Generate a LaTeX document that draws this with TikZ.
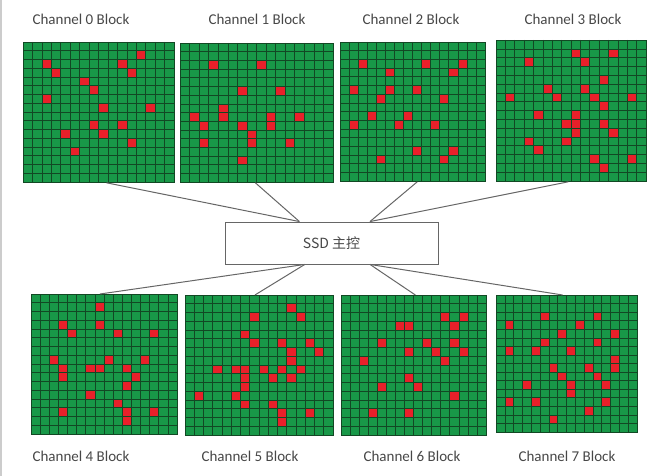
\documentclass[tikz,border=0pt]{standalone}
\usepackage{fontspec}
\setmainfont{Carlito}
\newfontfamily\cjk{Noto Sans CJK SC}
\usetikzlibrary{calc}
\definecolor{cellgreen}{RGB}{24,152,72}
\definecolor{cellred}{RGB}{232,32,42}
\definecolor{gridgray}{RGB}{18,72,36}

\begin{document}
\begin{tikzpicture}[x=1pt, y=-1pt,
  lbl/.style={font=\fontsize{15}{17}\selectfont, text=black!72},
  ctrlbox/.style={draw=black!60, line width=0.9pt, fill=white, minimum width=213pt, minimum height=42pt, inner sep=0pt, font=\cjk\fontsize{14}{16}\selectfont, text=black!72},
  blk/.style={draw=gridgray, line width=0.8pt, anchor=north west, inner sep=0pt},
  gridline/.style={gridgray, line width=0.55pt},
  link/.style={draw=black!60, line width=1pt}]
\useasboundingbox (0,0) rectangle (659,476);
\draw[black!20, line width=2pt] (1,0) -- (1,476);

% channel blocks: name/x/y/width/height/label x/label y/red cells (column/row)
\foreach \n/\x/\y/\w/\h/\lx/\ly/\cells in {
  0/23/42/151/140/81/19/{2/2,3/3,12/1,10/2,11/3,6/4,7/5,2/6,8/7,13/7,7/9,10/9,8/10,4/10,11/11,5/12},
  1/180/43/153/139/257/19/{3/2,8/2,6/5,10/5,4/7,4/8,1/8,2/9,6/9,7/10,7/11,9/8,9/9,12/8,2/11,11/11,6/13},
  2/340/42/145/139/411/19/{2/2,9/2,13/2,12/3,5/3,1/5,5/5,8/5,4/6,11/6,3/8,7/8,1/9,6/9,10/9,8/12,12/12,4/13,11/13},
  3/496/40/150/141/573/19/{8/1,12/1,3/2,9/2,11/4,5/5,9/5,6/6,1/6,10/6,14/6,11/7,4/8,8/8,7/9,8/9,8/10,11/9,12/10,3/11,7/11,4/12,10/13,14/13,11/14},
  4/31/294/146/140/81/456/{7/1,3/3,4/4,7/3,9/4,13/4,2/7,8/7,12/7,3/8,3/9,6/8,7/8,10/8,11/9,10/10,6/11,9/12,10/13,10/14,3/13,13/13},
  5/185/295/148/140/250/456/{7/2,11/1,12/2,6/4,7/5,10/5,13/5,14/6,11/6,11/7,3/8,5/8,6/8,8/8,10/8,12/8,6/9,6/10,9/9,11/9,1/11,5/11,6/12,9/12,10/13,10/14,13/13},
  6/341/295/145/140/412/456/{11/2,13/2,12/3,6/3,7/3,4/5,9/5,12/5,7/6,10/6,13/6,2/7,11/7,7/9,4/10,8/10,12/11,3/13,7/13},
  7/496/295/141/137/567/456/{5/2,11/2,1/3,9/3,7/4,13/4,5/5,11/5,1/6,4/6,8/6,13/7,13/8,6/8,10/8,7/9,11/9,3/10,8/10,8/11,12/10,1/12,4/12,12/12,10/13,6/14}}{
  \pgfmathsetmacro\cw{\w/16}
  \pgfmathsetmacro\ch{\h/16}
  \begin{scope}[shift={(\x,\y)}, x=\cw pt, y=-\ch pt]
    \fill[cellgreen] (0,0) rectangle (16,16);
    \foreach \c/\r in \cells
      \fill[cellred] (\c,\r) rectangle +(1,1);
    \foreach \i in {1,...,15} {
      \draw[gridline] (\i,0) -- (\i,16);
      \draw[gridline] (0,\i) -- (16,\i);
    }
  \end{scope}
  \node[blk, minimum width=\w pt, minimum height=\h pt] (ch\n) at (\x,\y) {};
  \node[lbl] (lbl\n) at (\lx,\ly) {Channel \n\ Block};
}

\node[ctrlbox] (ctrl) at (331.5,243) {SSD 主控};

\foreach \n/\a/\b in {0/0.55/0.35, 1/0.49/0.35, 2/0.53/0.68, 3/0.48/0.68}
  \draw[link] ($(ch\n.south west)!\a!(ch\n.south east)$) -- ($(ctrl.north west)!\b!(ctrl.north east)$);
\foreach \n/\a/\b in {4/0.47/0.375, 5/0.47/0.375, 6/0.51/0.68, 7/0.47/0.68}
  \draw[link] ($(ctrl.south west)!\b!(ctrl.south east)$) -- ($(ch\n.north west)!\a!(ch\n.north east)$);
\end{tikzpicture}
\end{document}
